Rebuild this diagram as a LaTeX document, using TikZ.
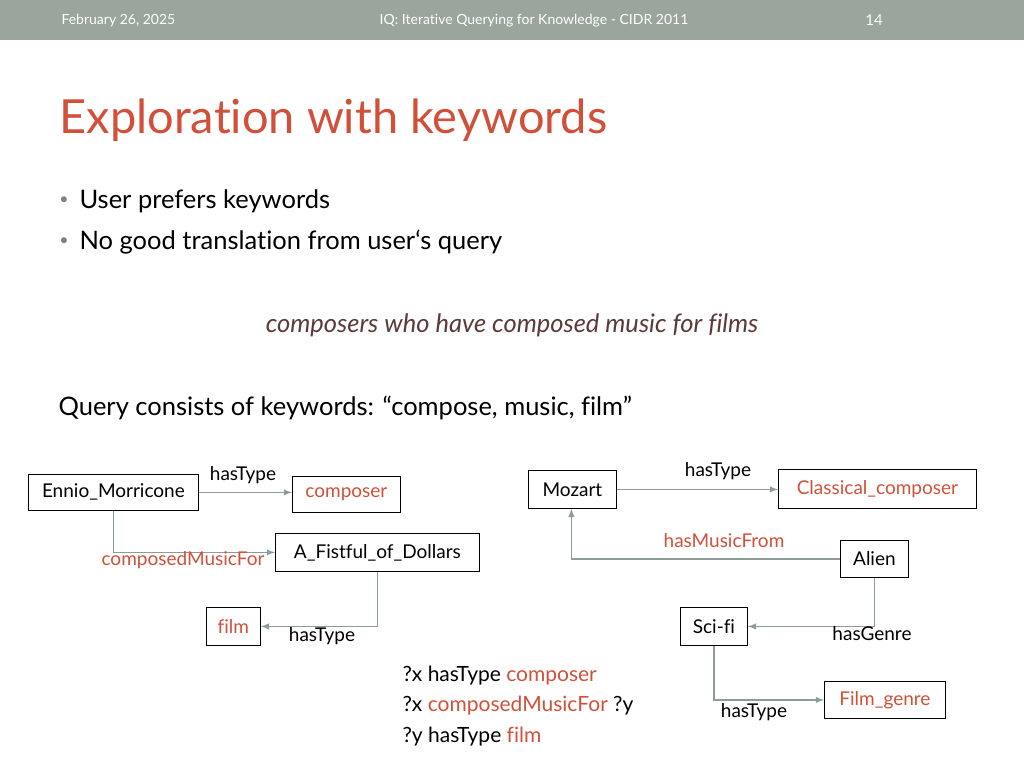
\documentclass[tikz,border=0pt]{standalone}
\usepackage{fontspec}
\setmainfont{Lato}[Ligatures={NoCommon}]
\usepackage{tikz}
\definecolor{barcol}{HTML}{9AA59C}
\definecolor{titlered}{HTML}{D0503A}
\definecolor{linkgray}{HTML}{8E9C98}
\definecolor{quotebrown}{HTML}{5B3A3A}
\tikzset{
  entity/.style={draw=black, thick, inner sep=0pt, anchor=north west},
  link/.style={draw=linkgray, line width=1.8pt, -latex},
  lbl/.style={font=\fontsize{19}{21}\selectfont},
}
\begin{document}
\begin{tikzpicture}[x=1pt, y=-1pt]
             \useasboundingbox (0,0) rectangle (1024,768);
             \fill[barcol] (0,0) rectangle (1024,40);
             \node[white, anchor=west, font=\fontsize{14}{16}\selectfont] (date) at (58,21) {February 26, 2025};
             \node[white, font=\fontsize{14}{16}\selectfont] (conf) at (534,21) {IQ: Iterative Querying for Knowledge - CIDR 2011};
             \node[white, font=\fontsize{15}{17}\selectfont] (page) at (874,20) {14};

             \node[titlered, anchor=west, font=\fontsize{47}{50}\selectfont] (title) at (56,120) {Exploration with keywords};
             \node[gray, font=\fontsize{16}{18}\selectfont] (b1) at (64,201) {•};
             \node[anchor=west, font=\fontsize{25.5}{30}\selectfont] (t1) at (76,201) {User prefers keywords};
             \node[gray, font=\fontsize{16}{18}\selectfont] (b2) at (64,242) {•};
             \node[anchor=west, font=\fontsize{25.5}{30}\selectfont] (t2) at (76,242) {No good translation from user‘s query};
             \node[quotebrown, font=\fontsize{25.5}{30}\selectfont\itshape] (nlq) at (512,325) {composers who have composed music for films};
             \node[anchor=west, font=\fontsize{25.5}{30}\selectfont] (kw) at (55,408) {Query consists of keywords: “compose, music, film”};

             % left graph
             \node[entity, lbl, minimum width=170pt, minimum height=36pt] (ennio) at (28,474) {Ennio\_Morricone};
             \node[entity, lbl, titlered, draw=black, minimum width=108pt, minimum height=36pt] (composer) at (292,476) {composer};
             \node[entity, lbl, minimum width=204pt, minimum height=38pt] (fistful) at (275,533) {A\_Fistful\_of\_Dollars};
             \node[entity, lbl, titlered, draw=black, minimum width=54pt, minimum height=38pt] (film) at (206,607) {film};
             \draw[link] (ennio.east) -- (composer.west |- ennio.east);
             \draw[link] (ennio.south) |- (fistful.west);
             \draw[link] (fistful.south) |- (film.east);
             \node[lbl] (l1) at (243,475) {hasType};
             \node[lbl, titlered] (l2) at (183,560) {composedMusicFor};
             \node[lbl] (l3) at (322,636) {hasType};

             % right graph
             \node[entity, lbl, minimum width=88pt, minimum height=38pt] (mozart) at (528,470) {Mozart};
             \node[entity, lbl, titlered, draw=black, minimum width=198pt, minimum height=39pt] (classical) at (778,469) {Classical\_composer};
             \node[entity, lbl, minimum width=68pt, minimum height=37pt] (alien) at (840,540) {Alien};
             \node[entity, lbl, minimum width=67pt, minimum height=38pt] (scifi) at (680,607) {Sci-fi};
             \node[entity, lbl, titlered, draw=black, minimum width=121pt, minimum height=37pt] (genre) at (824,681) {Film\_genre};
             \draw[link] (mozart.east) -- (classical.west |- mozart.east);
             \draw[link] (alien.west) -| ([xshift=-1pt]mozart.south);
             \draw[link] (alien.south) |- (scifi.east);
             \draw[link] (scifi.south) |- (genre.west);
             \node[lbl] (l4) at (718,471) {hasType};
             \node[lbl, titlered] (l5) at (724,541) {hasMusicFrom};
             \node[lbl] (l6) at (872,634) {hasGenre};
             \node[lbl] (l7) at (754,712) {hasType};

             % query
             \node[anchor=west, font=\fontsize{21}{24}\selectfont] (q1) at (399,676) {?x hasType \textcolor{titlered}{composer}};
             \node[anchor=west, font=\fontsize{21}{24}\selectfont] (q2) at (399,706) {?x \textcolor{titlered}{composedMusicFor} ?y};
             \node[anchor=west, font=\fontsize{21}{24}\selectfont] (q3) at (399,737) {?y hasType \textcolor{titlered}{film}};
\end{tikzpicture}
\end{document}
